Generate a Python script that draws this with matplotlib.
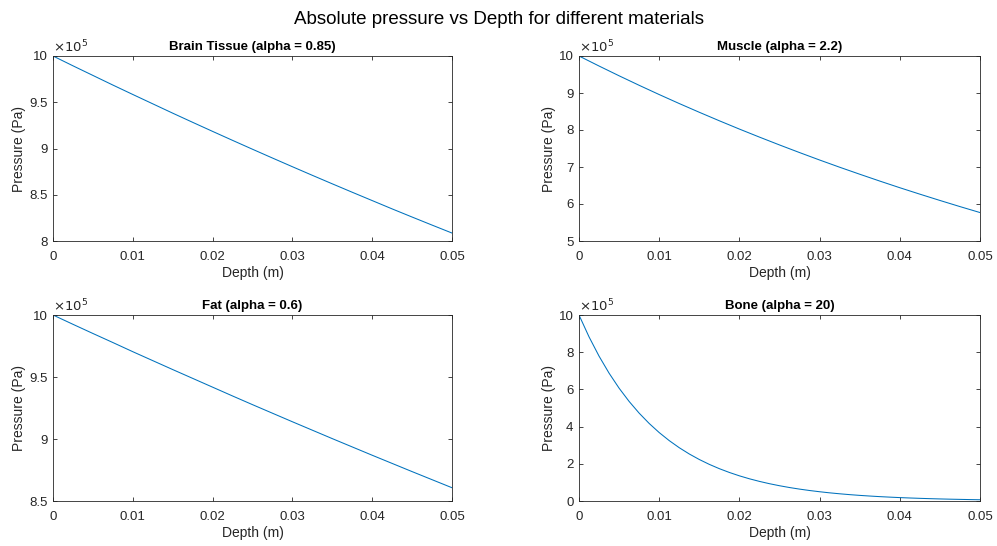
import matplotlib
matplotlib.use("Agg")
import matplotlib.pyplot as plt
from matplotlib.ticker import FuncFormatter, MultipleLocator

plt.rcParams['font.family'] = ['Liberation Sans', 'DejaVu Sans']

# Depth samples (m)
depth = [i * 0.0025 for i in range(21)]
depth_fine = [i * 0.00125 for i in range(41)]

# Absolute pressure, in units of 1e5 Pa
brain = [10.000, 9.894, 9.790, 9.686, 9.584, 9.483, 9.382, 9.283, 9.185, 9.088,
         8.992, 8.897, 8.803, 8.710, 8.618, 8.527, 8.437, 8.347, 8.259, 8.172, 8.086]
muscle = [10.000, 9.729, 9.465, 9.208, 8.958, 8.715, 8.479, 8.249, 8.025, 7.808,
          7.596, 7.390, 7.189, 6.994, 6.805, 6.620, 6.440, 6.266, 6.096, 5.930, 5.769]
fat = [10.000, 9.925, 9.851, 9.778, 9.704, 9.632, 9.560, 9.489, 9.418, 9.347,
       9.277, 9.208, 9.139, 9.071, 9.003, 8.936, 8.869, 8.803, 8.737, 8.672, 8.607]
bone = [10.000, 8.825, 7.788, 6.873, 6.065, 5.353, 4.724, 4.169, 3.679, 3.247,
        2.865, 2.528, 2.231, 1.969, 1.738, 1.534, 1.353, 1.194, 1.054, 0.930,
        0.821, 0.724, 0.639, 0.564, 0.498, 0.439, 0.388, 0.342, 0.302, 0.267,
        0.235, 0.208, 0.183, 0.162, 0.143, 0.126, 0.111, 0.098, 0.087, 0.076, 0.067]

titles = ["Brain Tissue (alpha = 0.85)", "Muscle (alpha = 2.2)",
          "Fat (alpha = 0.6)", "Bone (alpha = 20)"]
ylims = [(8, 10), (5, 10), (8.5, 10), (0, 10)]
ysteps = [0.5, 1, 0.5, 2]

W, H = 997, 546
fig = plt.figure(figsize=(W / 100, H / 100), dpi=100)

# axes boxes in pixels: left, top, right, bottom
boxes = [(53, 56, 452, 241), (579, 56, 980, 241),
         (53, 315, 452, 501), (579, 315, 980, 501)]

series = [(depth, brain), (depth, muscle), (depth, fat), (depth_fine, bone)]

gray = '#262626'
line_color = '#0072BD'


def fmt_num(v, pos):
    s = ('%.2f' % v).rstrip('0').rstrip('.')
    return s


for (l, t, r, b), (xs, ys), title, ylim, ystep in zip(boxes, series, titles, ylims, ysteps):
    ax = fig.add_axes([l / W, 1 - b / H, (r - l) / W, (b - t) / H])
    ax.plot(xs, ys, color=line_color, linewidth=0.75)
    ax.set_xlim(0, 0.05)
    ax.set_ylim(*ylim)
    ax.xaxis.set_major_locator(MultipleLocator(0.01))
    ax.yaxis.set_major_locator(MultipleLocator(ystep))
    ax.xaxis.set_major_formatter(FuncFormatter(fmt_num))
    ax.yaxis.set_major_formatter(FuncFormatter(fmt_num))
    ax.tick_params(direction='in', top=True, right=True, length=3, width=0.6,
                   colors=gray, labelsize=9.5)
    ax.tick_params(axis='x', pad=7.5)
    ax.tick_params(axis='y', pad=4)
    for sp in ax.spines.values():
        sp.set_color(gray)
        sp.set_linewidth(0.6)
    ax.set_xlabel("Depth (m)", fontsize=10, color=gray, labelpad=2)
    ax.set_ylabel("Pressure (Pa)", fontsize=10, color=gray, labelpad=2)
    ax.set_title(title, fontsize=9.5, fontweight='bold', color='black', pad=4)
    ax.text(0.0, 1.005, r'$\times10^5$', transform=ax.transAxes, fontsize=9.5,
            color=gray, ha='left', va='bottom', math_fontfamily='dejavusans')

fig.suptitle("Absolute pressure vs Depth for different materials",
             fontsize=13.5, y=1 - 19 / H, va='center')

fig.savefig("out.png", dpi=100)
